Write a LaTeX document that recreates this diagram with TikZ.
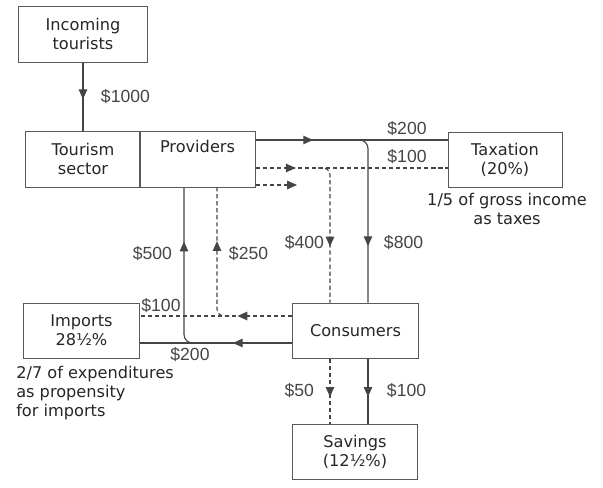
\documentclass[tikz,border=0pt]{standalone}
\usepackage{fontspec}
\setmainfont{DejaVu Sans}
\newfontfamily\lblfont{Liberation Sans}
\usetikzlibrary{arrows.meta,positioning,calc,decorations.markings}
\definecolor{ink}{HTML}{454545}

\begin{document}
\begin{tikzpicture}[
  x=0.025cm,y=-0.025cm,
  box/.style={draw=black!65,line width=0.7pt,minimum height=1.4cm,inner sep=0pt,
              font=\fontsize{11.5}{13.5}\selectfont,text=black!85,align=center},
  lbl/.style={font=\lblfont\fontsize{12.5}{14}\selectfont,text=ink,inner sep=0.5pt},
  note/.style={font=\fontsize{11.5}{13.5}\selectfont,text=black!85,inner sep=0pt},
  ln/.style={draw=ink,line width=0.8pt},
  dl/.style={draw=ink,line width=0.8pt,dash pattern=on 3pt off 2pt},
  marr/.style={postaction={decorate,decoration={markings,
               mark=at position #1 with {\arrow{Triangle[length=7pt,width=6pt]}}}}}]
\useasboundingbox (0,0) rectangle (603,487);
\node[box,minimum width=3.2cm]   (inc)  at (83,34)      {Incoming\\tourists};
\node[box,minimum width=2.85cm]  (tour) at (83,159)     {Tourism\\sector};
\node[box,minimum width=2.875cm] (prov) at (197.5,159)  {Providers\\\strut};
\node[box,minimum width=2.85cm,minimum height=1.375cm]  (tax)  at (505,159.5) {Taxation\\(20\%)};
\node[box,minimum width=2.875cm,minimum height=1.375cm] (imp)  at (81.5,330.5) {Imports\\28½\%};
\node[box,minimum width=3.125cm,minimum height=1.375cm] (cons) at (355.5,330.5) {Consumers};
\node[box,minimum width=3.1cm,minimum height=1.375cm]   (sav)  at (355,451.5) {Savings\\(12½\%)};
% turning points of the flows
\coordinate (ctax)  at (368,140);
\coordinate (cdash) at (330,168);
\coordinate (stub)  at (297,185);
\coordinate (cimp)  at (184,343);
\coordinate (cdimp) at (217,316);
% providers to taxation and consumers
\draw[ln,marr=0.54] (inc) -- (tour);
\draw[ln,marr=0.30] (prov.east |- ctax) -- (tax.west |- ctax);
\draw[ln,rounded corners=6,marr=0.67] ($(ctax)+(-12,0)$) -- (ctax) -- (ctax |- cons.north);
\draw[dl,marr=0.21] (prov.east |- cdash) -- (tax.west |- cdash);
\draw[dl,rounded corners=5,marr=0.61] ($(cdash)+(-12,0)$) -- (cdash) -- (cdash |- cons.north);
\draw[dl,-{Triangle[length=7pt,width=6pt]}] (prov.east |- stub) -- (stub);
% consumers to imports and providers
\draw[ln,marr=0.39] (cons.west |- cimp) -- (imp.east |- cimp);
\draw[ln,rounded corners=6,marr=0.67] ($(cimp)+(12,0)$) -- (cimp) -- (cimp |- prov.south);
\draw[dl,marr=0.36] (cons.west |- cdimp) -- (imp.east |- cdimp);
\draw[dl,rounded corners=5,marr=0.61] ($(cdimp)+(12,0)$) -- (cdimp) -- (cdimp |- prov.south);
% consumers to savings
\draw[dl,marr=0.59] (cdash |- cons.south) -- (cdash |- sav.north);
\draw[ln,marr=0.59] (ctax |- cons.south) -- (ctax |- sav.north);
% amounts
\node[lbl,anchor=west] (l1000) at (100,97)  {\$1000};
\node[lbl]             (l200t) at (407,129) {\$200};
\node[lbl]             (l100t) at (407,157) {\$100};
\node[lbl,anchor=west] (l800)  at (383,243) {\$800};
\node[lbl,anchor=east] (l400)  at (325,243) {\$400};
\node[lbl,anchor=east] (l500)  at (173,254) {\$500};
\node[lbl,anchor=west] (l250)  at (228,254) {\$250};
\node[lbl]             (l100b) at (161,306) {\$100};
\node[lbl]             (l200b) at (190,355) {\$200};
\node[lbl,anchor=east] (l50)   at (315,391) {\$50};
\node[lbl,anchor=west] (l100s) at (386,391) {\$100};
\node[note,align=center] (ntax) at (507,209) {1/5 of gross income\\as taxes};
\node[note,align=left,anchor=west] (nimp) at (16,393) {2/7 of expenditures\\as propensity\\for imports};
\end{tikzpicture}
\end{document}
